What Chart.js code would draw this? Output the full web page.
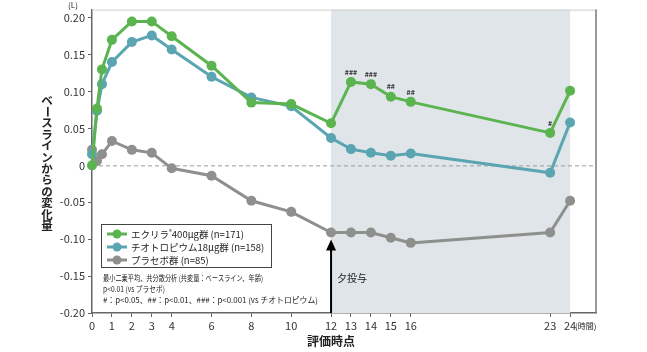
<!DOCTYPE html>
<html>
<head>
<meta charset="utf-8">
<script src="https://cdn.jsdelivr.net/npm/chart.js@4.4.1/dist/chart.umd.min.js"></script>
<style>
html, body { margin: 0; padding: 0; background: #fff; }
#wrap { width: 647px; height: 352px; }
</style>
</head>
<body>
<div id="wrap"><canvas id="chart" width="647" height="352"></canvas></div>
<script>
// 評価時点 (時間)
const hours = [0, 0.25, 0.5, 1, 2, 3, 4, 6, 8, 10, 12, 13, 14, 15, 16, 23, 24];

// ベースラインからの変化量 (L)
const ecliraVals = [0.000, 0.077, 0.130, 0.170, 0.195, 0.195, 0.175, 0.135, 0.085, 0.083, 0.057, 0.113, 0.110, 0.093, 0.086, 0.044, 0.101];
const tiotropiumVals = [0.015, 0.074, 0.110, 0.140, 0.167, 0.176, 0.157, 0.120, 0.092, 0.080, 0.037, 0.022, 0.017, 0.013, 0.016, -0.010, 0.058];
const placeboVals = [0.021, 0.006, 0.015, 0.033, 0.021, 0.017, -0.004, -0.014, -0.048, -0.063, -0.091, -0.091, -0.091, -0.098, -0.105, -0.091, -0.048];

// vs チオトロピウム の有意差マーク (エクリラ群)
const sigMarks = ['', '', '', '', '', '', '', '', '', '', '', '###', '###', '##', '##', '#', ''];

const seriesNames = ['エクリラ®400μg群 (n=171)', 'チオトロピウム18μg群 (n=158)', 'プラセボ群 (n=85)'];
const xTicks = [0, 1, 2, 3, 4, 6, 8, 10, 12, 13, 14, 15, 16, 23, 24];
const yTicks = [-0.20, -0.15, -0.10, -0.05, 0, 0.05, 0.10, 0.15, 0.20];
const notes = [
    '最小二乗平均、共分散分析 (共変量：ベースライン、年齢)',
    'p<0.01 (vs プラセボ)',
    '#：p<0.05、##：p<0.01、###：p<0.001 (vs チオトロピウム)'
];
const shadeFrom = 12, shadeTo = 24; // 夕投与後の区間
const doseHour = 12;

const colors = ['#5bb450', '#5aa5b1', '#8e908d'];
const jpFont = '"Noto Sans CJK JP", "Noto Sans", sans-serif';

function toPoints(vals) {
    return hours.map((h, i) => ({ x: h, y: vals[i] }));
}

const decorPlugin = {
    id: 'decor',
    beforeDatasetsDraw(chart) {
        const { ctx, chartArea: a, scales: { x, y } } = chart;
        ctx.save();
        // 網掛け
        const x0 = x.getPixelForValue(shadeFrom), x1 = x.getPixelForValue(shadeTo);
        ctx.fillStyle = '#dfe5e9';
        ctx.fillRect(x0, a.top, x1 - x0, a.bottom - a.top);
        // 0 の破線
        const y0 = y.getPixelForValue(0);
        ctx.strokeStyle = '#9c9c9c';
        ctx.lineWidth = 1;
        ctx.setLineDash([4, 3]);
        ctx.beginPath();
        ctx.moveTo(a.left, y0 + 0.5);
        ctx.lineTo(a.right, y0 + 0.5);
        ctx.stroke();
        ctx.setLineDash([]);
        // 上・右の枠
        ctx.strokeStyle = '#cfcfcf';
        ctx.beginPath();
        ctx.moveTo(a.left, a.top + 0.5);
        ctx.lineTo(a.right, a.top + 0.5);
        ctx.stroke();
        ctx.strokeStyle = '#777';
        ctx.lineWidth = 1.5;
        ctx.beginPath();
        ctx.moveTo(a.right, a.top);
        ctx.lineTo(a.right, a.bottom);
        ctx.stroke();
        ctx.restore();
    },
    afterDatasetsDraw(chart) {
        const { ctx, chartArea: a, scales: { x, y } } = chart;
        ctx.save();

        // 有意差マーク
        ctx.fillStyle = '#333';
        ctx.font = 'bold 7px ' + jpFont;
        ctx.textAlign = 'center';
        ctx.textBaseline = 'middle';
        sigMarks.forEach((m, i) => {
            if (!m) return;
            ctx.fillText(m, x.getPixelForValue(hours[i]), y.getPixelForValue(ecliraVals[i]) - 10);
        });

        // 夕投与の矢印
        const ax = x.getPixelForValue(doseHour);
        const tipY = y.getPixelForValue(placeboVals[hours.indexOf(doseHour)]) + 7;
        ctx.strokeStyle = '#000';
        ctx.fillStyle = '#000';
        ctx.lineWidth = 2;
        ctx.beginPath();
        ctx.moveTo(ax, a.bottom);
        ctx.lineTo(ax, tipY + 8);
        ctx.stroke();
        ctx.beginPath();
        ctx.moveTo(ax, tipY);
        ctx.lineTo(ax - 5, tipY + 11);
        ctx.lineTo(ax + 5, tipY + 11);
        ctx.closePath();
        ctx.fill();
        ctx.font = '10px ' + jpFont;
        ctx.textAlign = 'left';
        ctx.fillStyle = '#222';
        ctx.fillText('夕投与', ax + 6, 278);

        // 凡例
        ctx.strokeStyle = '#444';
        ctx.lineWidth = 1;
        ctx.strokeRect(101.5, 224.5, 170, 43);
        seriesNames.forEach((name, i) => {
            const ly = 234 + i * 13;
            ctx.strokeStyle = colors[i];
            ctx.fillStyle = colors[i];
            ctx.lineWidth = 3;
            ctx.beginPath();
            ctx.moveTo(107, ly);
            ctx.lineTo(127, ly);
            ctx.stroke();
            ctx.beginPath();
            ctx.arc(117, ly, 4.5, 0, Math.PI * 2);
            ctx.fill();
            ctx.fillStyle = '#222';
            ctx.textBaseline = 'middle';
            const parts = name.split('®');
            ctx.font = '9.5px ' + jpFont;
            let tx = 131;
            ctx.fillText(parts[0], tx, ly);
            if (parts.length > 1) {
                tx += ctx.measureText(parts[0]).width;
                ctx.font = '6px ' + jpFont;
                ctx.fillText('®', tx, ly - 2.5);
                tx += ctx.measureText('®').width;
                ctx.font = '9.5px ' + jpFont;
                ctx.fillText(parts[1], tx, ly);
            }
        });

        // 注記
        ctx.font = '8px ' + jpFont;
        ctx.fillStyle = '#222';
        const noteWidths = [160, 62, 215];
        notes.forEach((t, i) => {
            ctx.fillText(t, 103, 278 + i * 11, noteWidths[i]);
        });

        // 軸タイトル
        ctx.font = 'bold 12px ' + jpFont;
        ctx.textAlign = 'center';
        ctx.fillText('評価時点', 331, 341);
        const yTitle = 'ベースラインからの変化量';
        ctx.font = 'bold 11.5px ' + jpFont;
        const step = 11.4;
        const startY = 163 - (yTitle.length - 1) * step / 2;
        [...yTitle].forEach((ch, i) => {
            const cy = startY + i * step;
            if (ch === 'ー') {
                ctx.save();
                ctx.translate(47, cy);
                ctx.rotate(Math.PI / 2);
                ctx.fillText(ch, 0, 0);
                ctx.restore();
            } else {
                ctx.fillText(ch, 47, cy);
            }
        });

        // 単位
        ctx.font = '8px ' + jpFont;
        ctx.fillText('(L)', 73, 5);
        ctx.textAlign = 'left';
        ctx.fillText('(時間)', 575, 326);

        ctx.restore();
    }
};

const datasets = [ecliraVals, tiotropiumVals, placeboVals].map((vals, i) => ({
    label: seriesNames[i],
    data: toPoints(vals),
    borderColor: colors[i],
    backgroundColor: colors[i],
    borderWidth: 3,
    pointRadius: 5,
    pointBorderWidth: 0,
    pointBackgroundColor: colors[i],
    tension: 0,
    clip: false
}));

new Chart(document.getElementById('chart'), {
    type: 'line',
    data: { datasets: datasets },
    options: {
        responsive: false,
        animation: false,
        devicePixelRatio: 1,
        layout: { padding: { top: 9, right: 51, left: 0, bottom: 0 } },
        plugins: { legend: { display: false }, tooltip: { enabled: false } },
        scales: {
            x: {
                type: 'linear',
                min: 0,
                max: 25.3,
                afterBuildTicks: s => { s.ticks = xTicks.map(v => ({ value: v })); },
                afterFit: s => { s.height = 39; },
                ticks: {
                    autoSkip: false,
                    maxRotation: 0,
                    color: '#333',
                    padding: 2,
                    font: { family: jpFont, size: 11 }
                },
                grid: { drawOnChartArea: false, tickLength: 4, color: '#666' },
                border: { color: '#666', width: 1.5 }
            },
            y: {
                min: -0.2,
                max: 0.211,
                afterBuildTicks: s => { s.ticks = yTicks.map(v => ({ value: v })); },
                afterFit: s => { s.width = 92; },
                ticks: {
                    color: '#333',
                    padding: 3,
                    font: { family: jpFont, size: 11 },
                    callback: v => (Math.abs(v) < 1e-9 ? '0' : v.toFixed(2))
                },
                grid: { drawOnChartArea: false, tickLength: 4, color: '#666' },
                border: { color: '#666', width: 1.5 }
            }
        }
    },
    plugins: [decorPlugin]
});
</script>
</body>
</html>
